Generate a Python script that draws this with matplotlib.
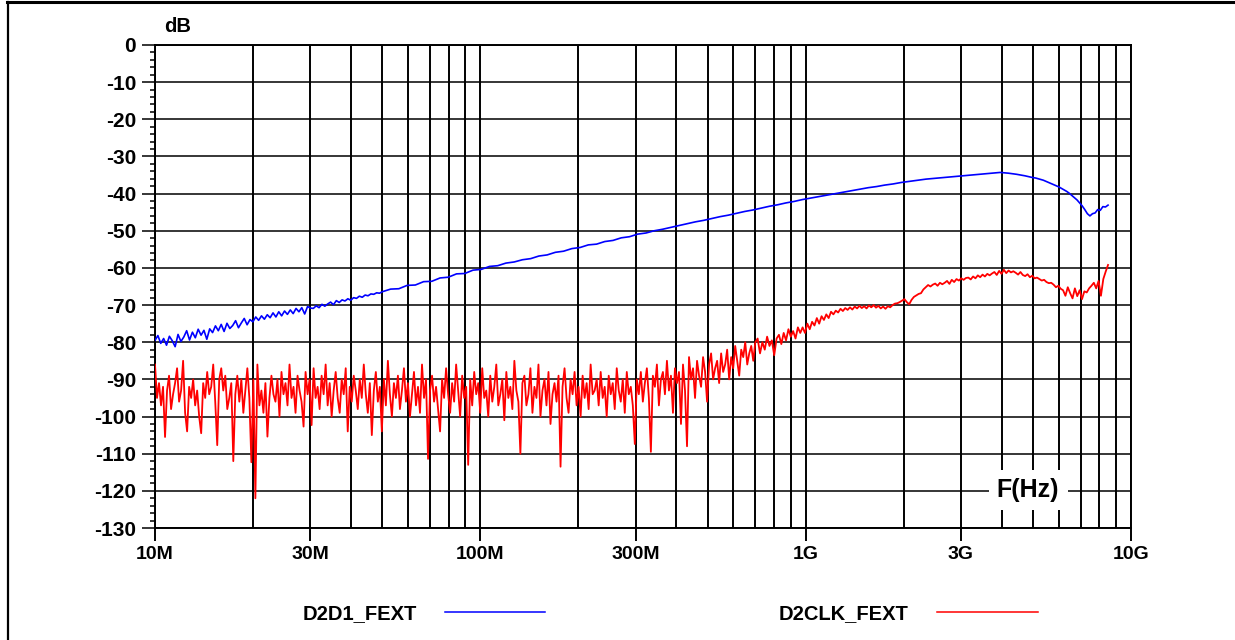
import numpy as np
import matplotlib
matplotlib.use("Agg")
import matplotlib.pyplot as plt
from matplotlib.ticker import FixedLocator, LogLocator, NullFormatter, MultipleLocator
from matplotlib.lines import Line2D

plt.rcParams['font.family'] = ['Liberation Sans', 'DejaVu Sans']
plt.rcParams['font.weight'] = 'bold'

# ---------------- data ----------------
# D2CLK_FEXT, noisy part: 10 MHz .. 700 MHz (log-spaced sweep)
red_noise_start, red_noise_stop = 10e6, 700e6
red_noise_db = [
    -86, -95, -91, -97, -92, -105.5, -93, -89, -98, -94, -91, -87, -96, -93, -85, -99, -104, -92, -95, -90,
    -97, -93, -100, -104.5, -91, -95, -88, -94, -92, -86, -96, -107.7, -90, -87, -93, -89, -98, -95, -91, -112,
    -94, -89, -96, -90, -99, -93, -87, -95, -112.3, -90, -122, -86, -97, -93, -99, -91, -105.4, -95, -89, -94,
    -96, -90, -100, -88, -94, -91, -97, -86, -95, -92, -99, -89, -93, -96, -102.7, -88, -94, -90, -102.3, -87,
    -95, -92, -98, -89, -94, -86, -97, -91, -100, -93, -88, -95, -99, -90, -94, -87, -104, -92, -96, -89,
    -93, -98, -90, -95, -86, -94, -99, -91, -105, -93, -88, -96, -92, -104, -90, -97, -85, -94, -100, -91,
    -95, -89, -98, -93, -87, -96, -91, -100, -94, -88, -97, -92, -99, -86, -95, -90, -111.4, -93, -89, -96,
    -92, -98, -104, -90, -95, -87, -94, -99, -91, -96, -86, -93, -100, -89, -95, -92, -113, -90, -97, -88,
    -94, -91, -99, -87, -95, -93, -100, -89, -96, -92, -86, -97, -94, -90, -101, -88, -95, -92, -98, -85,
    -93, -96, -110, -91, -89, -97, -94, -87, -99, -92, -95, -86, -100, -93, -90, -97, -88, -102, -94, -91,
    -96, -89, -113.5, -92, -87, -95, -99, -90, -94, -88, -97, -92, -100, -89, -95, -91, -98, -86, -94, -93,
    -90, -97, -88, -95, -92, -100, -89, -94, -91, -98, -87, -93, -96, -90, -99, -88, -94, -92, -97, -107.4,
    -90, -94, -88, -96, -91, -87, -95, -109.5, -89, -92, -86, -97, -90, -88, -94, -85, -93, -89, -99, -87,
    -91, -88, -102, -86, -93, -108, -84, -90, -87, -95, -85, -89, -92, -84, -88, -96, -86, -83, -90, -87,
    -85, -91, -83, -88, -86, -82, -90, -84, -87, -81, -85, -89, -82, -84, -80, -86, -83, -81, -85, -80,
]
# D2CLK_FEXT, upper part: 700 MHz .. 8.5 GHz
red_high_start, red_high_stop = 700e6, 8.5e9
red_high_db = [
    -81, -79, -83, -80, -82, -78.5, -81, -79.5, -83.5, -79,
    -78, -80.5, -77.5, -79.5, -76.5, -78.5, -77, -79, -76, -77.5,
    -76, -77.5, -75, -76.5, -74.5, -75.5, -73.5, -75, -73, -74,
    -72.5, -73.5, -71.8, -72.5, -71.5, -72, -71, -71.6, -70.8, -71.3,
    -70.6, -71.2, -70.4, -70.9, -70.2, -70.8, -70.3, -70.9, -70.1, -70.6,
    -70, -70.7, -70.2, -70.9, -70.4, -71, -70.3, -70.6, -70, -69.6,
    -69.5, -69.2, -68.8, -68.4, -69.2, -69.8, -68.6, -67.8, -67.4, -67,
    -66.8, -65.8, -65.2, -64.6, -65, -64.5, -64.2, -64.8, -64, -64.4,
    -64, -63.5, -64.3, -63.2, -63.8, -63, -63.4, -62.8, -63.2, -62.7,
    -62.6, -63.1, -62.3, -62.8, -62, -62.5, -61.8, -62.3, -61.6, -62,
    -61.5, -61.1, -61.9, -60.8, -61.6, -60.5, -61.4, -60.7, -61.2, -60.9,
    -61.3, -61.8, -61.1, -61.9, -62.2, -61.7, -62.5, -62.1, -62.8, -62.6,
    -63, -63.4, -63.2, -63.8, -64.1, -64, -64.5, -65.2, -64.8, -65.6,
    -66, -67.5, -65.2, -66.8, -68.2, -65.5, -67.6, -66, -68.4, -66.3,
    -66.6, -65.5, -64.8, -64, -65.5, -63.5, -67.5, -63, -61, -59.2,
]

# D2D1_FEXT: 10 MHz .. 50 MHz (noisy), 50 MHz .. 5 GHz, 5 GHz .. 8.5 GHz
blue_low_start, blue_low_stop = 10e6, 50e6
blue_low_db = [
    -79.5, -78.2, -80.3, -79, -80.8, -78.4, -79.6, -81.2, -77.9, -79.8,
    -78.6, -76.9, -79.4, -77.3, -78.8, -76.5, -78.1, -76.8, -79.2, -76.4,
    -77.4, -75.6, -76.9, -75.2, -77.1, -74.9, -76.3, -75.5, -74.2, -76.1,
    -74.8, -73.6, -75.3, -73.9, -74.5, -73.2, -74.1, -72.9, -73.8, -72.6,
    -73.4, -72.1, -73.2, -71.8, -72.9, -71.6, -72.5, -71.3, -72.3, -70.9,
    -71.8, -70.7, -72.4, -70.4, -70.8, -70.9, -70.2, -70.7, -69.8, -70.3,
    -69.7, -69.2, -69.9, -68.8, -69.3, -68.6, -68.9, -68.3, -68.7, -68.0,
    -68.2, -67.6, -67.9, -67.3, -67.5, -67.0, -67.1, -66.7, -66.8, -66.4,
]
blue_mid_start, blue_mid_stop = 50e6, 5e9
blue_mid_db = [
    -66.4, -65.7, -65.6, -64.7, -64.6, -63.7, -63.6, -62.7, -62.5, -61.6,
    -61.5, -60.6, -60.4, -59.6, -59.4, -58.7, -58.4, -57.8, -57.5, -56.8,
    -56.5, -55.8, -55.5, -54.8, -54.5, -53.8, -53.6, -52.9, -52.6, -51.9,
    -51.6, -50.9, -50.6, -50.0, -49.6, -49.1, -48.6, -48.1, -47.6, -47.2,
    -46.7, -46.2, -45.8, -45.3, -44.8, -44.4, -43.9, -43.4, -43.0, -42.5,
    -42.1, -41.6, -41.2, -40.8, -40.4, -40.0, -39.6, -39.2, -38.8, -38.4,
    -38.1, -37.7, -37.4, -37.0, -36.7, -36.4, -36.1, -35.9, -35.7, -35.5,
    -35.3, -35.1, -34.9, -34.7, -34.5, -34.3, -34.5, -34.8, -35.2, -35.7,
]
blue_high_start, blue_high_stop = 5e9, 8.5e9
blue_high_db = [
    -35.7, -35.8, -36.0, -36.2, -36.4, -36.7, -37.0, -37.3, -37.6, -37.9,
    -38.2, -38.6, -39.0, -39.4, -39.9, -40.5, -41.1, -41.7, -42.5, -43.3,
    -44.3, -45.4, -46.0, -45.4, -45.2, -44.3, -44.5, -43.5, -43.6, -43.1,
]

labels = ["D2D1_FEXT", "D2CLK_FEXT"]
colors = ["#0000ff", "#ff0000"]

x_major = [1e7, 3e7, 1e8, 3e8, 1e9, 3e9, 1e10]
x_major_labels = ["10M", "30M", "100M", "300M", "1G", "3G", "10G"]
y_ticks = list(range(-130, 1, 10))

# ---------------- assemble series ----------------
def seg(f0, f1, vals):
    return np.geomspace(f0, f1, len(vals)), np.asarray(vals, float)

bf1, bv1 = seg(blue_low_start, blue_low_stop, blue_low_db)
bf2, bv2 = seg(blue_mid_start, blue_mid_stop, blue_mid_db)
bf3, bv3 = seg(blue_high_start, blue_high_stop, blue_high_db)
blue_f = np.concatenate([bf1, bf2[1:], bf3[1:]])
blue_v = np.concatenate([bv1, bv2[1:], bv3[1:]])

rf1, rv1 = seg(red_noise_start, red_noise_stop, red_noise_db)
rf2, rv2 = seg(red_high_start, red_high_stop, red_high_db)
red_f = np.concatenate([rf1, rf2[1:]])
red_v = np.concatenate([rv1, rv2[1:]])

# ---------------- figure ----------------
fig = plt.figure(figsize=(12.35, 6.4), dpi=100)
ax = fig.add_axes([155/1235, 1-528/640, (1131-155)/1235, (528-45)/640])

ax.set_xscale('log')
ax.set_xlim(1e7, 1e10)
ax.set_ylim(-130, 0)

ax.plot(blue_f, blue_v, color=colors[0], lw=1.2, label=labels[0], zorder=3)
ax.plot(red_f, red_v, color=colors[1], lw=1.3, label=labels[1], zorder=3)

ax.xaxis.set_major_locator(FixedLocator(x_major))
ax.set_xticklabels(x_major_labels)
ax.xaxis.set_minor_locator(LogLocator(base=10, subs=np.arange(2, 10)))
ax.xaxis.set_minor_formatter(NullFormatter())
ax.set_yticks(y_ticks)
ax.set_yticklabels([str(v) for v in y_ticks])
ax.yaxis.set_minor_locator(MultipleLocator(2))

ax.grid(True, which='major', axis='x', color='black', lw=1.4)
ax.grid(True, which='minor', axis='x', color='black', lw=1.4)
ax.grid(True, which='major', axis='y', color='black', lw=1.1)

ax.tick_params(axis='x', which='major', direction='out', length=9.4, width=1.4,
               labelsize=14, pad=3.5)
ax.tick_params(axis='x', which='minor', length=0)
ax.tick_params(axis='y', which='major', direction='out', length=9.6, width=1.1,
               labelsize=15, pad=4)
ax.tick_params(axis='y', which='minor', direction='out', length=3.6, width=1.1)
for lab in ax.get_xticklabels() + ax.get_yticklabels():
    lab.set_fontweight('bold')

for s in ax.spines.values():
    s.set_color('black')
    s.set_linewidth(1.4)

ax.text(178/1235, 1-27/640, "dB", transform=fig.transFigure, ha='center', va='center',
        fontsize=14.5, fontweight='bold')

ax.text((1028-155)/976, (528-490)/483, "F(Hz)", transform=ax.transAxes,
        ha='center', va='center', fontsize=18, fontweight='bold', zorder=5,
        bbox=dict(boxstyle='square,pad=0.33', fc='white', ec='none'))

leg = fig.legend(loc='center', bbox_to_anchor=(670/1235, 1-614/640), ncol=2,
                 frameon=False, markerfirst=False, fontsize=14.5,
                 handlelength=5.0, handletextpad=1.4, columnspacing=11.6)
for t in leg.get_texts():
    t.set_fontweight('bold')
for h in leg.legend_handles:
    h.set_linewidth(1.1)

# outer frame (top and left edges visible)
fig.add_artist(Line2D([7/1235, 1.0], [1-1.5/640, 1-1.5/640], color='black', lw=2.2,
                      transform=fig.transFigure))
fig.add_artist(Line2D([7.5/1235, 7.5/1235], [0.0, 1-1.5/640], color='black', lw=1.6,
                      transform=fig.transFigure))

fig.savefig("out.png", dpi=100)
